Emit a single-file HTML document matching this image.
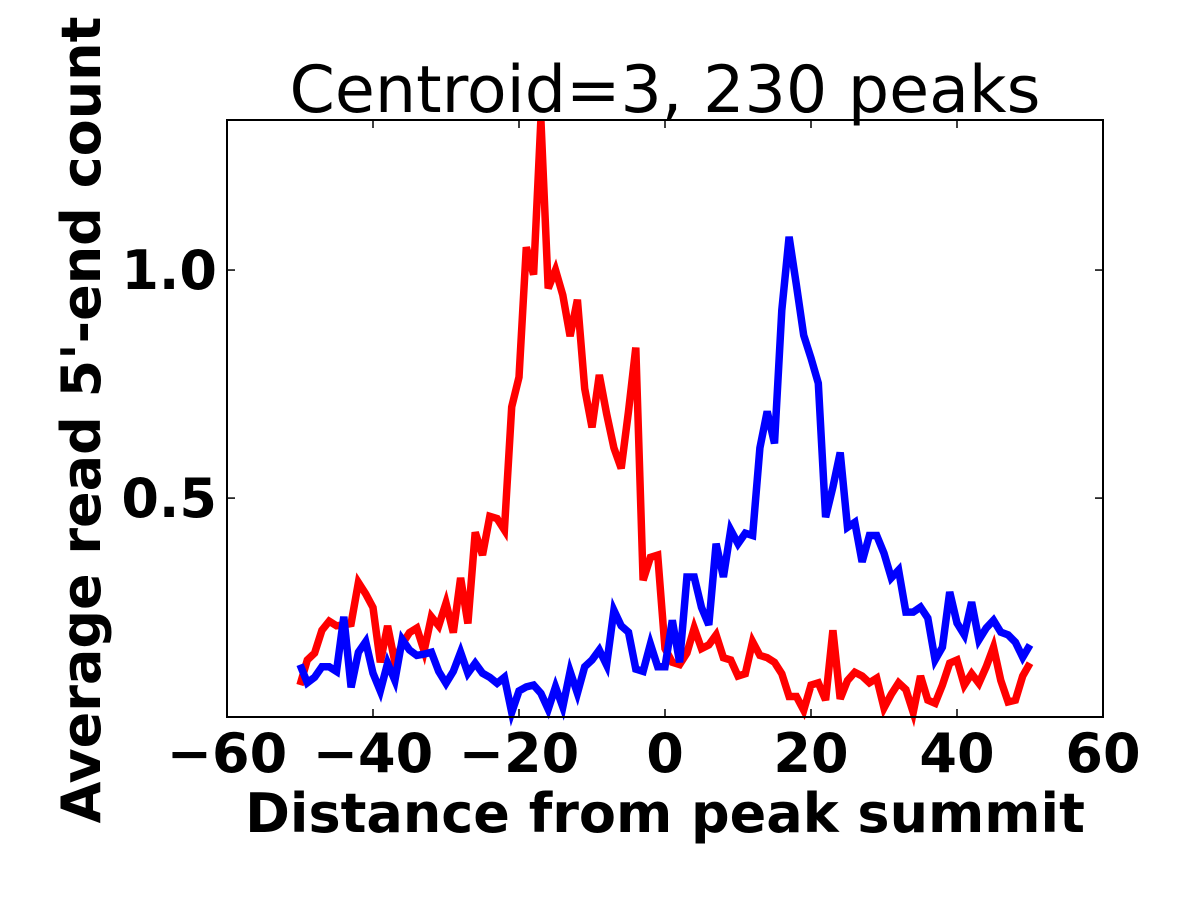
<!DOCTYPE html>
<html><head><meta charset="utf-8"><style>
body{margin:0;background:#fff}
svg text{font-family:"DejaVu Sans","Liberation Sans",sans-serif}
</style></head><body>
<svg id="chart" width="1200" height="900" xmlns="http://www.w3.org/2000/svg">
<rect width="1200" height="900" fill="#fff"/>
<text x="665" y="112" font-size="65" text-anchor="middle">Centroid=3, 230 peaks</text>
<g id="plot"></g>
<text x="665" y="832" font-size="54" font-weight="bold" text-anchor="middle">Distance from peak summit</text>
<text transform="translate(100,420) rotate(-90)" font-size="54" font-weight="bold" text-anchor="middle">Average read 5'-end count</text>
</svg>
<script>
const xTicks=[-60,-40,-20,0,20,40,60];
const yTicks=[0.5,1.0];
const yTickLabels=["0.5","1.0"];
const redValues=[0.09,0.145,0.16,0.21,0.23,0.22,0.222,0.225,0.315,0.29,0.26,0.14,0.22,0.14,0.18,0.205,0.215,0.165,0.24,0.22,0.27,0.205,0.325,0.225,0.425,0.375,0.46,0.455,0.43,0.70,0.765,1.05,0.99,1.33,0.96,1.0,0.945,0.855,0.935,0.74,0.655,0.77,0.685,0.61,0.565,0.69,0.83,0.32,0.37,0.375,0.17,
0.14,0.135,0.16,0.215,0.17,0.178,0.2,0.15,0.145,0.11,0.115,0.185,0.155,0.15,0.14,0.115,0.065,0.065,0.035,0.09,0.095,0.057,0.21,0.06,0.10,0.118,0.11,0.095,0.105,0.04,0.07,0.095,0.08,0.03,0.11,0.057,0.05,0.09,0.138,0.145,0.09,0.115,0.094,0.13,0.173,0.1,0.053,0.057,0.11,0.138];
const blueValues=[0.135,0.095,0.107,0.13,0.13,0.12,0.24,0.085,0.162,0.185,0.116,0.077,0.138,0.1,0.19,0.167,0.155,0.158,0.162,0.12,0.094,0.12,0.162,0.116,0.138,0.116,0.107,0.094,0.107,0.03,0.077,0.086,0.09,0.072,0.037,0.086,0.042,0.12,0.072,0.13,0.145,0.167,0.134,0.254,0.22,0.206,0.125,0.12,0.18,0.13,0.13,
0.232,0.14,0.327,0.327,0.26,0.222,0.40,0.327,0.43,0.40,0.423,0.418,0.61,0.69,0.62,0.912,1.073,0.967,0.857,0.807,0.752,0.458,0.524,0.60,0.436,0.447,0.36,0.418,0.418,0.379,0.325,0.342,0.25,0.25,0.261,0.237,0.145,0.173,0.294,0.226,0.2,0.272,0.189,0.215,0.232,0.206,0.2,0.184,0.151,0.178];
const xStart=-50;
const L=227,R=1103,T=120,B=717,yMin=0.02,yMax=1.329;
const sx=v=>L+(v+60)/120*(R-L);
const sy=v=>B-(v-yMin)/(yMax-yMin)*(B-T);
const NS="http://www.w3.org/2000/svg";
const g=document.getElementById('plot');
function mk(t,a){const e=document.createElementNS(NS,t);for(const k in a)e.setAttribute(k,a[k]);g.appendChild(e);return e;}
function series(vals,color,name){
  const pts=vals.map((v,i)=>sx(xStart+i).toFixed(1)+','+sy(v).toFixed(1)).join(' ');
  const p=mk('polyline',{points:pts,fill:'none',stroke:color,'stroke-width':7.5,'stroke-linejoin':'miter','stroke-miterlimit':4});
  
  
}
series(redValues,'#ff0000','red-series');
series(blueValues,'#0000ff','blue-series');
const fr=mk('rect',{x:L,y:T,width:R-L,height:B-T,fill:'none',stroke:'#000','stroke-width':2});


xTicks.forEach(t=>{
  const x=sx(t);
  mk('line',{x1:x,y1:B,x2:x,y2:B-8,stroke:'#000','stroke-width':1.5});
  mk('line',{x1:x,y1:T,x2:x,y2:T+8,stroke:'#000','stroke-width':1.5});
  const tx=mk('text',{x:x,y:B+55,'font-size':54,'font-weight':'bold','text-anchor':'middle'});
  tx.textContent=(t<0?'\u2212'+(-t):String(t));
  
  
});
yTicks.forEach((t,i)=>{
  const y=sy(t);
  mk('line',{x1:L,y1:y,x2:L+8,y2:y,stroke:'#000','stroke-width':1.5});
  mk('line',{x1:R,y1:y,x2:R-8,y2:y,stroke:'#000','stroke-width':1.5});
  const tx=mk('text',{x:L-10,y:y+19,'font-size':54,'font-weight':'bold','text-anchor':'end'});
  tx.textContent=yTickLabels[i];
  
  
});
</script>
</body></html>
